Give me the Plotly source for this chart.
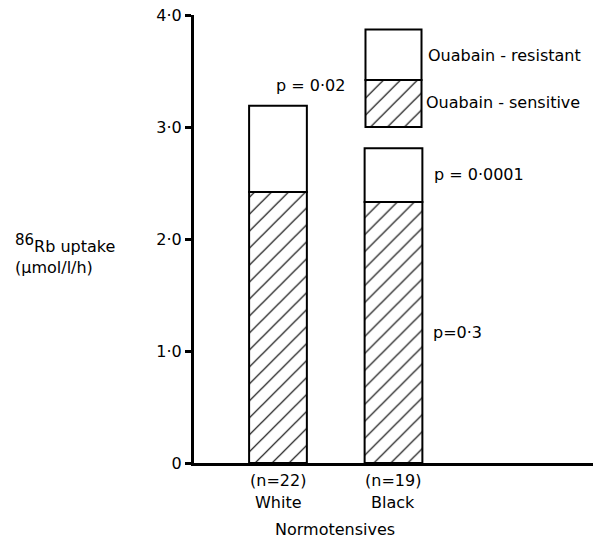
import plotly.graph_objects as go

# ---- data ----
groups = ["White", "Black"]
n_subjects = [22, 19]
ouabain_sensitive = [2.42, 2.33]
ouabain_resistant = [0.77, 0.48]   # stacked on top of sensitive part
p_labels = ["p = 0\u00b702", "p = 0\u00b70001", "p=0\u00b73"]
y_ticks = [0, 1, 2, 3, 4]
y_ticktext = ["0", "1\u00b70", "2\u00b70", "3\u00b70", "4\u00b70"]

# legend key box (drawn as a small stacked bar in the Black column)
key_base = 3.0
key_sensitive = 0.42
key_resistant = 0.45

FONT = "DejaVu Sans"
FS = 16
BAR_W = 0.50
hatch = dict(shape="/", fgcolor="black", bgcolor="white", size=12, solidity=0.1, fillmode="replace")
line = dict(color="black", width=2)

# page offset (default body margin) and plot area in screen pixels
OFF = 8
W, H = 605 - OFF, 540 - OFF
L, R, T, B = 194 - OFF, 593 - OFF, 15 - OFF, 463 - OFF


def px(xs, ys):
    xp, yp = xs - OFF, ys - OFF
    return (xp - L) / (R - L), (B - yp) / (B - T)


fig = go.Figure()
fig.add_bar(x=groups, y=ouabain_sensitive, base=[0, 0], width=BAR_W,
            marker=dict(color="white", pattern=hatch, line=line))
fig.add_bar(x=groups, y=ouabain_resistant, base=ouabain_sensitive, width=BAR_W,
            marker=dict(color="white", line=line))
# key box
fig.add_bar(x=[groups[1]], y=[key_sensitive], base=[key_base], width=BAR_W * 0.97,
            marker=dict(color="white", pattern=hatch, line=line))
fig.add_bar(x=[groups[1]], y=[key_resistant], base=[key_base + key_sensitive], width=BAR_W * 0.97,
            marker=dict(color="white", line=line))

fig.update_layout(
    width=W, height=H,
    margin=dict(l=L, r=W - R, t=T, b=H - B, autoexpand=False),
    barmode="overlay",
    showlegend=False,
    plot_bgcolor="white", paper_bgcolor="white",
    font=dict(family=FONT, size=FS, color="black"),
    xaxis=dict(type="category", categoryorder="array", categoryarray=groups,
               range=[-0.727, 2.727], showline=True, linecolor="black", linewidth=3,
               showgrid=False, zeroline=False, ticks="", showticklabels=False,
               automargin=False),
    yaxis=dict(range=[0, 4.0], showline=True, linecolor="black", linewidth=3,
               showgrid=False, zeroline=False, ticks="outside", ticklen=6, tickwidth=3,
               tickcolor="black", tickvals=y_ticks, ticktext=y_ticktext,
               tickfont=dict(size=FS), automargin=False, ticklabeloverflow="allow"),
)

texts = [
    (p_labels[0], 310, 85, "center"),
    ("Ouabain - resistant", 426, 55, "left"),
    ("Ouabain - sensitive", 424, 103, "left"),
    (p_labels[1], 432, 175, "left"),
    (p_labels[2], 431, 332, "left"),
    ("Normotensives", 335, 529, "center"),
]
for i, g in enumerate(groups):
    cx = [278, 393][i]
    texts.append((f"(n={n_subjects[i]})", cx, 480, "center"))
    texts.append((g, cx, 503, "center"))

for t, xs, ys, anc in texts:
    xx, yy = px(xs, ys)
    fig.add_annotation(x=xx, y=yy, xref="paper", yref="paper", text=t, showarrow=False,
                       xanchor=anc, yanchor="middle", font=dict(size=FS, family=FONT))

xx, yy = px(13, 254)
fig.add_annotation(x=xx, y=yy, xref="paper", yref="paper",
                   text="<sup><span style='font-size:15px'>86</span></sup>Rb uptake<br>(\u00b5mol/l/h)",
                   showarrow=False, xanchor="left", yanchor="middle", align="left",
                   font=dict(size=FS, family=FONT))

fig.write_html("out.html")
